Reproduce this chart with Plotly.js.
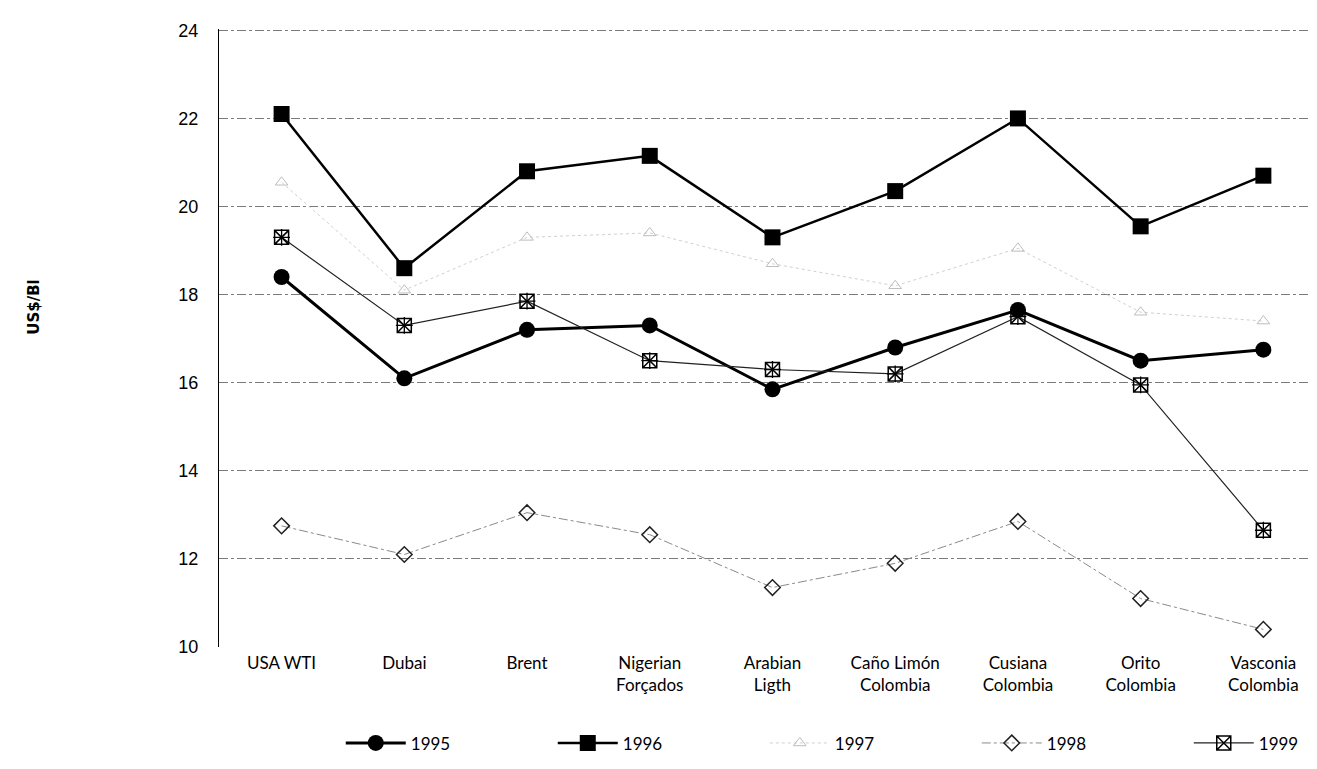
<!DOCTYPE html>
<html>
<head>
<meta charset="utf-8">
<script src="https://cdn.plot.ly/plotly-3.0.1.min.js"></script>
<style>
html,body{margin:0;padding:0;background:#fff;}
#chart{width:1317px;height:769px;}
</style>
</head>
<body>
<div id="chart"></div>
<script>
// Categories (crude oil markers)
const categories = ["USA WTI", "Dubai", "Brent", "Nigerian<br>Forçados", "Arabian<br>Ligth",
  "Caño Limón<br>Colombia", "Cusiana<br>Colombia", "Orito<br>Colombia", "Vasconia<br>Colombia"];

// Prices, US$/Bl
const y1995 = [18.4, 16.1, 17.2, 17.3, 15.85, 16.8, 17.65, 16.5, 16.75];
const y1996 = [22.1, 18.6, 20.8, 21.15, 19.3, 20.35, 22.0, 19.55, 20.7];
const y1997 = [20.55, 18.1, 19.3, 19.4, 18.7, 18.2, 19.05, 17.6, 17.4];
const y1998 = [12.75, 12.1, 13.05, 12.55, 11.35, 11.9, 12.85, 11.1, 10.4];
const y1999 = [19.3, 17.3, 17.85, 16.5, 16.3, 16.2, 17.5, 15.95, 12.65];

const yTicks = [10, 12, 14, 16, 18, 20, 22, 24];
const seriesNames = ["1995", "1996", "1997", "1998", "1999"];

const traces = [
  {x: categories, y: y1995, name: seriesNames[0], type: "scatter", mode: "lines+markers",
   line: {color: "#000", width: 3}, marker: {symbol: "circle", size: 16, color: "#000"}},
  {x: categories, y: y1996, name: seriesNames[1], type: "scatter", mode: "lines+markers",
   line: {color: "#000", width: 2.5}, marker: {symbol: "square", size: 16, color: "#000"}},
  {x: categories, y: y1997, name: seriesNames[2], type: "scatter", mode: "lines+markers",
   line: {color: "#d0d0d0", width: 1, dash: "dot"},
   marker: {symbol: "triangle-up-open", size: 11, color: "#bdbdbd", line: {width: 1, color: "#bdbdbd"}}},
  {x: categories, y: y1998, name: seriesNames[3], type: "scatter", mode: "lines+markers",
   line: {color: "#8a8a8a", width: 1, dash: "dashdot"},
   marker: {symbol: "diamond-open", size: 12, color: "#222", line: {width: 1.5, color: "#222"}}},
  {x: categories, y: y1999, name: seriesNames[4], type: "scatter", mode: "lines+markers",
   line: {color: "#222", width: 1.2},
   marker: {symbol: "square-x-open", size: 14, color: "#000", line: {width: 1.5, color: "#000"}}},
  {x: categories, y: y1999, name: seriesNames[4], type: "scatter", mode: "markers", showlegend: false,
   hoverinfo: "skip",
   marker: {symbol: "cross-thin-open", size: 12, color: "#000", line: {width: 1.3, color: "#000"}}}
];

const legendSpacer = "\u00a0".repeat(76);

const layout = {
  width: 1317, height: 769,
  margin: {l: 219, r: 7, t: 29, b: 122},
  paper_bgcolor: "#fff", plot_bgcolor: "#fff",
  showlegend: true,
  legend: {orientation: "h", x: -0.001, xanchor: "left", y: -0.156, yanchor: "middle",
    title: {text: legendSpacer, side: "left", font: {family: "Lato, sans-serif", size: 17}},
    entrywidthmode: "pixels", entrywidth: 137, itemwidth: 60,
    font: {family: "Lato, 'Open Sans', sans-serif", size: 17, color: "#000"}, bgcolor: "rgba(0,0,0,0)"},
  xaxis: {type: "category", range: [-0.51, 8.38], showgrid: false, zeroline: false, showline: false,
    ticks: "", tickfont: {family: "Lato, 'Open Sans', sans-serif", size: 17, color: "#000"},
    ticklabelstandoff: 4},
  yaxis: {range: [10, 24.03], tickvals: yTicks, showgrid: true, gridcolor: "#7a7a7a", gridwidth: 1,
    griddash: "dashdot", zeroline: false, showline: true, linecolor: "#000", linewidth: 1,
    ticks: "", ticklabelstandoff: 16,
    tickfont: {family: "'Liberation Sans', Arial, sans-serif", size: 18, color: "#000"}},
  annotations: [
    {text: "<b>US$/Bl</b>", xref: "paper", yref: "paper", x: -0.18, y: 0.55, showarrow: false,
     textangle: -90, font: {family: "'DejaVu Sans', Verdana, sans-serif", size: 15, color: "#000"}}
  ]
};

Plotly.newPlot("chart", traces, layout, {displayModeBar: false, staticPlot: true});
</script>
</body>
</html>
